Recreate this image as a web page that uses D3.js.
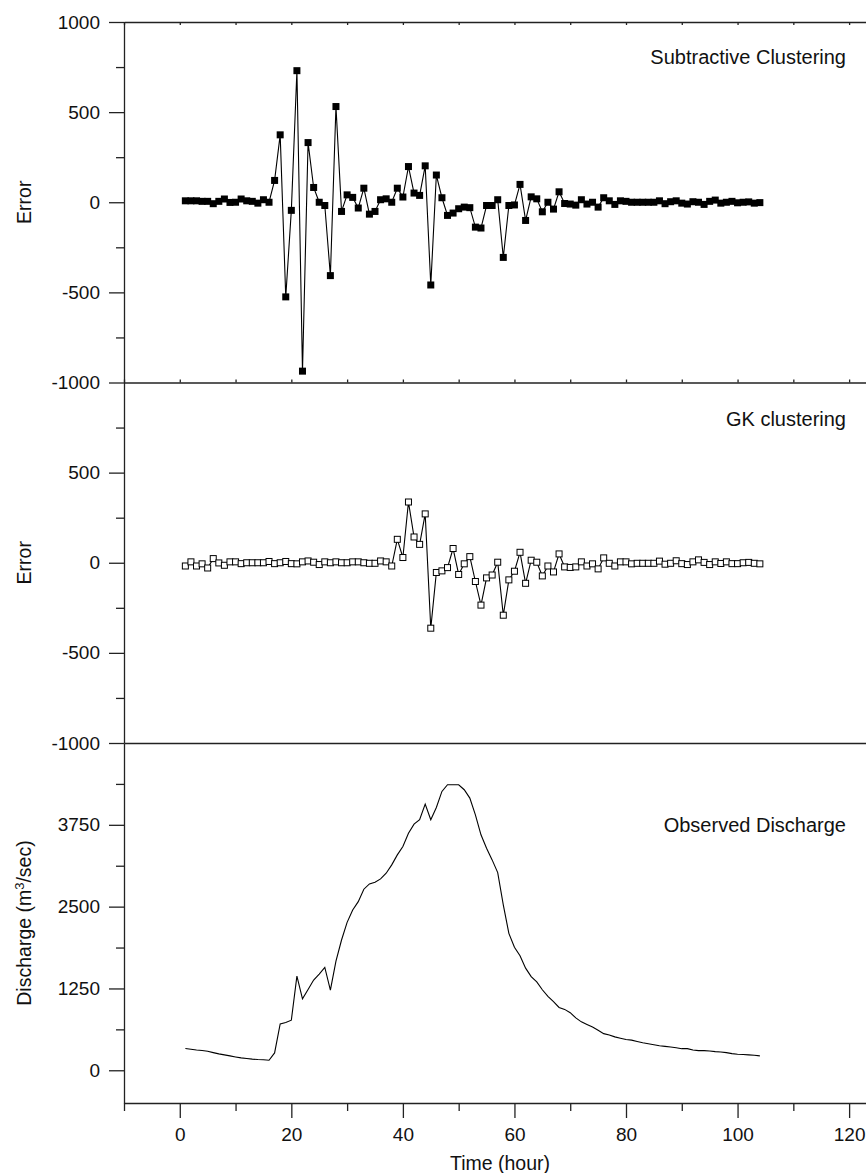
<!DOCTYPE html>
<html>
<head>
<meta charset="utf-8">
<script src="https://cdn.jsdelivr.net/npm/d3@7"></script>
<style>
  body { margin: 0; background: #fff; }
  svg text { font-family: "Liberation Sans", Arial, Helvetica, sans-serif; fill: #111; }
</style>
</head>
<body>
<svg id="chart" width="866" height="1173"></svg>
<script>
// hours 1..104
const hours = d3.range(1, 105);

const subtractiveError = [
  8, 8, 8, 5, 5, -8, 5, 18, -1, 0, 18, 8, 5, -5, 14, 0,
  121, 374, -525, -45, 730, -937, 331, 82, 0, -18, -407, 531, -51, 41,
  27, -32, 78, -66, -51, 14, 19, 0, 78, 29, 198, 51, 38, 202, -459, 151,
  25, -73, -60, -36, -27, -30, -138, -143, -18, -18, 14, -306, -18, -15,
  99, -101, 30, 19, -53, 0, -38, 58, -7, -10, -16, 14, -10, 0, -27, 25,
  8, -12, 8, 5, 0, 0, 0, 0, 0, 8, -8, 3, 8, -5, -10, 3, 0, -12, 5, 12,
  -5, 0, 5, -3, 0, 2, -5, -2
];

const gkError = [
  -18, 5, -18, -6, -29, 23, -1, -14, 5, 5, -5, 0, 0, 0, 0, 7,
  -5, 0, 7, -5, -6, 5, 10, 3, -10, 5, 0, 5, 0, 0, 5, 5, 0, -3, -3, 10,
  5, -18, 130, 29, 337, 143, 102, 271, -363, -54, -45, -27, 79, -65, -6,
  34, -104, -235, -84, -68, 3, -291, -95, -47, 58, -114, 14, 3, -73, -18,
  -51, 49, -23, -26, -23, 5, -18, -6, -34, 27, -3, -18, 5, 5, -6, -3, -3,
  -3, -3, 9, -8, -3, 11, -5, -10, 5, 16, 2, -10, 5, -4, 5, -5, -5, 0, 2,
  -3, -6
];

const discharge = [
  332, 321, 310, 301, 290, 270, 250, 235, 220, 204, 189, 180, 170, 164,
  160, 153, 265, 709, 729, 765, 1439, 1092, 1235, 1378, 1469, 1572, 1224,
  1668, 1990, 2260, 2449, 2576, 2766, 2847, 2873, 2924, 3010, 3138, 3291,
  3418, 3622, 3761, 3827, 4067, 3827, 4015, 4260, 4362, 4362, 4362, 4286,
  4158, 3903, 3597, 3393, 3214, 3020, 2526, 2092, 1880, 1750, 1560, 1430,
  1350, 1230, 1130, 1050, 960, 930, 880, 800, 740, 700, 660, 610, 560, 540,
  510, 490, 470, 460, 440, 420, 405, 390, 375, 365, 355, 345, 330, 330, 310,
  300, 300, 295, 285, 280, 270, 255, 245, 240, 235, 230, 220
];

const errorTicks = [-1000, -500, 0, 500, 1000];
const errorMinor = [-750, -250, 250, 750];
const dischargeTicks = [0, 1250, 2500, 3750];
const dischargeMinor = [625, 1875, 3125, 4375];
const timeTicks = [0, 20, 40, 60, 80, 100, 120];
const timeMinor = [-10, 10, 30, 50, 70, 90, 110];

const svg = d3.select("#chart");
const left = 124;
const x = d3.scaleLinear().domain([-10, 125]).range([left, 877]);
const plain = (d) => String(d);

const panels = [
  { name: "Subtractive Clustering", values: subtractiveError, domain: [-1000, 1000],
    top: 22, bottom: 382.5, ticks: errorTicks, minor: errorMinor, titleY: 63.5 },
  { name: "GK clustering", values: gkError, domain: [-1000, 1000],
    top: 382.5, bottom: 743, ticks: errorTicks.filter((t) => t < 1000), minor: errorMinor,
    titleY: 426 },
  { name: "Observed Discharge", values: discharge, domain: [-500, 5000],
    top: 743, bottom: 1103, ticks: dischargeTicks, minor: dischargeMinor, titleY: 832 }
];

panels.forEach((p) => {
  p.y = d3.scaleLinear().domain(p.domain).range([p.bottom, p.top]);
  const g = svg.append("g");

  // left axis: major ticks with labels
  g.append("g")
    .attr("transform", `translate(${left},0)`)
    .call(d3.axisLeft(p.y).tickValues(p.ticks).tickFormat(plain)
      .tickSize(15).tickSizeOuter(0).tickPadding(9))
    .call((a) => a.selectAll("text").style("font-size", "19px"));
  // minor ticks
  g.append("g")
    .attr("transform", `translate(${left},0)`)
    .call(d3.axisLeft(p.y).tickValues(p.minor).tickSize(8).tickFormat(""))
    .call((a) => a.select(".domain").remove());

  // panel title
  g.append("text")
    .attr("x", 846)
    .attr("y", p.titleY)
    .attr("text-anchor", "end")
    .style("font-size", "20px")
    .text(p.name);
});

// horizontal panel borders
svg.append("g")
  .attr("transform", `translate(0,${panels[0].top})`)
  .call(d3.axisBottom(x).tickValues(d3.range(-10, 125, 10)).tickSize(3).tickSizeOuter(0).tickFormat(""));
svg.append("g")
  .attr("transform", `translate(0,${panels[0].bottom})`)
  .call(d3.axisTop(x).tickValues(d3.range(-10, 125, 10)).tickSize(3).tickSizeOuter(0).tickFormat(""));
svg.append("g")
  .attr("transform", `translate(0,${panels[1].bottom})`)
  .call(d3.axisTop(x).tickValues([]).tickSizeOuter(0));

// bottom time axis
svg.append("g")
  .attr("transform", `translate(0,${panels[2].bottom})`)
  .call(d3.axisBottom(x).tickValues(timeTicks).tickFormat(plain)
    .tickSize(15).tickSizeOuter(0).tickPadding(10))
  .call((a) => a.selectAll("text").style("font-size", "19px"));
svg.append("g")
  .attr("transform", `translate(0,${panels[2].bottom})`)
  .call(d3.axisBottom(x).tickValues(timeMinor).tickSize(8).tickFormat(""))
  .call((a) => a.select(".domain").remove());

svg.selectAll(".domain, .tick line").attr("stroke", "#222").attr("stroke-width", 1.3);

// data lines and markers
panels.forEach((p, i) => {
  const pts = hours.map((h, k) => [h, p.values[k]]);
  svg.append("path")
    .datum(pts)
    .attr("fill", "none")
    .attr("stroke", "#000")
    .attr("stroke-width", 1.1)
    .attr("d", d3.line().x((d) => x(d[0])).y((d) => p.y(d[1])));

  if (i === 0) {
    svg.append("g").selectAll("rect").data(pts).join("rect")
      .attr("x", (d) => x(d[0]) - 3.5).attr("y", (d) => p.y(d[1]) - 3.5)
      .attr("width", 7).attr("height", 7).attr("fill", "#000");
  } else if (i === 1) {
    svg.append("g").selectAll("rect").data(pts).join("rect")
      .attr("x", (d) => x(d[0]) - 3).attr("y", (d) => p.y(d[1]) - 3)
      .attr("width", 6).attr("height", 6).attr("fill", "#fff")
      .attr("stroke", "#000").attr("stroke-width", 1);
  }
});

// axis titles
svg.append("text")
  .attr("transform", `translate(31,${(panels[0].top + panels[0].bottom) / 2}) rotate(-90)`)
  .attr("text-anchor", "middle").style("font-size", "19.5px").text("Error");
svg.append("text")
  .attr("transform", `translate(31,${(panels[1].top + panels[1].bottom) / 2}) rotate(-90)`)
  .attr("text-anchor", "middle").style("font-size", "19.5px").text("Error");
const dl = svg.append("text")
  .attr("transform", `translate(31,${(panels[2].top + panels[2].bottom) / 2}) rotate(-90)`)
  .attr("text-anchor", "middle").style("font-size", "19.5px");
dl.append("tspan").text("Discharge (m");
dl.append("tspan").attr("dy", -7).style("font-size", "13px").text("3");
dl.append("tspan").attr("dy", 7).text("/sec)");

svg.append("text")
  .attr("x", 500).attr("y", 1170)
  .attr("text-anchor", "middle").style("font-size", "19.5px")
  .text("Time (hour)");
</script>
</body>
</html>
